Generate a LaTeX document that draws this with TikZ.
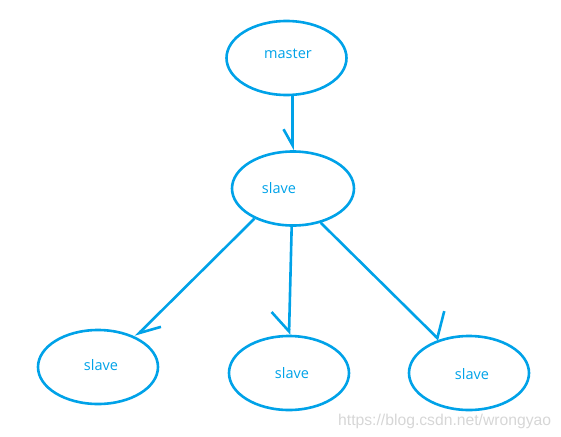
\documentclass[tikz,border=0pt]{standalone}
\usepackage{fontspec}
\setmainfont{Open Sans}
\newfontfamily\wmfont{Liberation Sans}
\usetikzlibrary{shapes.geometric,arrows.meta}
\definecolor{paintblue}{RGB}{0,162,232}
\definecolor{wmgray}{RGB}{214,214,214}
\begin{document}
\begin{tikzpicture}[x=1pt,y=-1pt,
  oval/.style={ellipse,draw=paintblue,line width=2.6pt,inner sep=0pt,minimum width=120pt,minimum height=74pt},
  lbl/.style={text=paintblue,font=\fontsize{14.5}{16}\selectfont,anchor=base,inner sep=0pt},
  conn/.style={draw=paintblue,line width=2.6pt}]
\useasboundingbox (0,0) rectangle (561,436);
\node[oval] (m) at (286.5,58) {};
\node[oval,minimum width=122pt] (s0) at (293,188.5) {};
\node[oval] (s1) at (98,367) {};
\node[oval] (s2) at (289,373) {};
\node[oval] (s3) at (469,373) {};
\node[lbl] (tm) at (288,59) {master};
\node[lbl] (t0) at (279,193) {slave};
\node[lbl] (t1) at (101,370) {slave};
\node[lbl] (t2) at (292,378) {slave};
\node[lbl] (t3) at (472,379) {slave};
\draw[conn,-{Straight Barb[harpoon,swap,length=16pt,width=18pt]}] ([xshift=6pt]m.south) -- ([xshift=-0.5pt]s0.north);
\draw[conn,-{Straight Barb[harpoon,length=20pt,width=22pt]}] (s0.218) -- (s1.39);
\draw[conn,-{Straight Barb[harpoon,swap,length=19pt,width=36pt]}] (s0.-92) -- (s2.north);
\draw[conn,-{Straight Barb[harpoon,length=14pt,width=48pt]}] (s0.-51) -- (s3.132);
\node[font=\wmfont\fontsize{15.7}{17}\selectfont,text=wmgray,anchor=base west,inner sep=0pt] (wm) at (338,425) {https://blog.csdn.net/wrongyao};
\end{tikzpicture}
\end{document}
